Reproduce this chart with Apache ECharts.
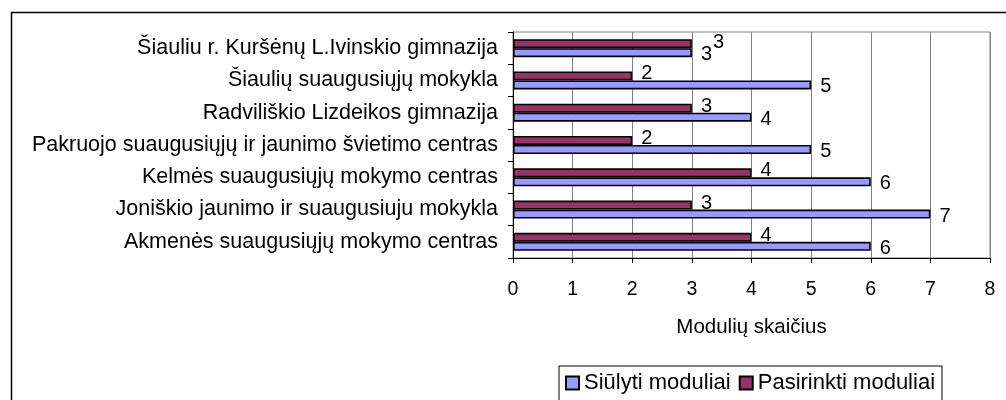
<!DOCTYPE html>
<html>
<head>
<meta charset="utf-8">
<script src="https://cdn.jsdelivr.net/npm/echarts@6/dist/echarts.min.js"></script>
<style>
  html, body { margin: 0; padding: 0; background: #fff; }
  #chart { width: 1006px; height: 400px; }
</style>
</head>
<body>
<div id="chart"></div>
<script>
// categories from bottom to top
const schools = [
  'Akmenės suaugusiųjų mokymo centras',
  'Joniškio jaunimo ir suaugusiuju mokykla',
  'Kelmės suaugusiųjų mokymo centras',
  'Pakruojo suaugusiųjų ir jaunimo švietimo centras',
  'Radviliškio Lizdeikos gimnazija',
  'Šiaulių suaugusiųjų mokykla',
  'Šiauliu r. Kuršėnų L.Ivinskio gimnazija'
]
const offered = [6, 7, 6, 5, 4, 5, 3]
const chosen = [4, 3, 4, 2, 3, 2, 3]
const xTicks = [0, 1, 2, 3, 4, 5, 6, 7, 8]

const font = 'Liberation Sans, Arial, sans-serif'

const chart = echarts.init(document.getElementById('chart'))
chart.setOption({
  animation: false,
  textStyle: { fontFamily: font, color: '#000' },
  graphic: [{
    type: 'rect',
    left: 9,
    top: 10,
    shape: { width: 1100, height: 500 },
    style: { fill: 'none', stroke: '#000', lineWidth: 1.5 }
  }],
  grid: { left: 513, right: 16, top: 32, bottom: 142, show: true, borderColor: '#808080', borderWidth: 1 },
  legend: {
    left: 559,
    top: 366,
    padding: [6, 7, 20, 6],
    borderColor: '#000',
    borderWidth: 1,
    itemWidth: 13,
    itemHeight: 13,
    itemGap: 8,
    icon: 'rect',
    itemStyle: { borderColor: '#000', borderWidth: 2 },
    textStyle: { fontSize: 22, color: '#000', fontFamily: font },
    data: ['Siūlyti moduliai', 'Pasirinkti moduliai']
  },
  xAxis: {
    type: 'value',
    min: xTicks[0],
    max: xTicks[xTicks.length - 1],
    interval: 1,
    name: 'Modulių skaičius',
    nameLocation: 'middle',
    nameGap: 59,
    nameTextStyle: { fontSize: 20.5, color: '#000', fontFamily: font },
    axisLine: { show: true, lineStyle: { color: '#000', width: 1 } },
    axisTick: { show: true, length: 5, lineStyle: { color: '#000' } },
    axisLabel: { fontSize: 19.5, color: '#000', margin: 22, fontFamily: font },
    splitLine: { show: true, lineStyle: { color: '#808080', width: 1 } }
  },
  yAxis: {
    type: 'category',
    data: schools,
    axisLine: { show: true, lineStyle: { color: '#000', width: 1 } },
    axisTick: { show: true, length: 5, lineStyle: { color: '#000' } },
    axisLabel: { fontSize: 21.5, color: '#000', margin: 15, fontFamily: font },
    splitLine: { show: false }
  },
  series: [
    {
      name: 'Pasirinkti moduliai',
      type: 'bar',
      data: chosen.map((v, i) => i === chosen.length - 1
        ? { value: v, label: { offset: [12, -1] } }
        : v),
      barWidth: 9,
      barGap: '0%',
      itemStyle: { color: '#993366', borderColor: '#000', borderWidth: 1.6 },
      label: { show: true, position: 'right', distance: 9, fontSize: 20, color: '#000', offset: [0, -2] }
    },
    {
      name: 'Siūlyti moduliai',
      type: 'bar',
      data: offered,
      barWidth: 9,
      itemStyle: { color: '#9999FF', borderColor: '#000', borderWidth: 1.6 },
      label: { show: true, position: 'right', distance: 9, fontSize: 20, color: '#000', offset: [0, 2] }
    }
  ]
})
</script>
</body>
</html>
